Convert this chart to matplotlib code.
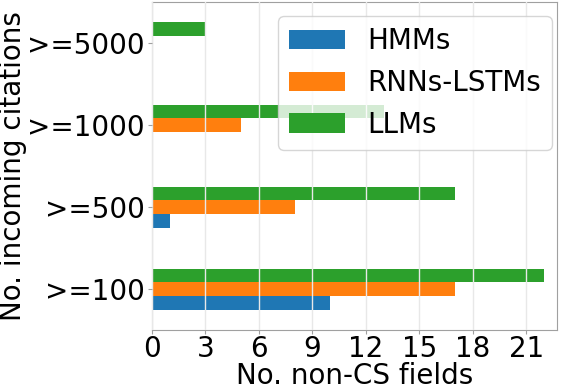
import pandas as pd
import matplotlib.pyplot as plt

categories = ['>=100', '>=500', '>=1000', '>=5000']
hmms = [10, 1, 0, 0]
rnns_lstms = [17, 8, 5, 0]
llms = [22, 17, 13, 3]

df = pd.DataFrame({'HMMs': hmms, 'RNNs-LSTMs': rnns_lstms, 'LLMs': llms}, index=categories)

plt.rcParams['font.size'] = 20
fig, ax = plt.subplots(figsize=(5.67, 3.88), dpi=100)
df.plot.barh(ax=ax, width=0.5)

ax.set_xticks(range(0, 22, 3))
ax.set_xlim(0, 22.7)
ax.set_xlabel('No. non-CS fields', labelpad=-1)
ax.set_ylabel('No. incoming citations', labelpad=0)
ax.grid(axis='x', color='#e8e8e8', linewidth=1)
ax.set_axisbelow(False)
for s in ax.spines.values():
    s.set_color('#a0a0a0')
ax.tick_params(colors='#a0a0a0', labelcolor='black', length=3, pad=2)
ax.tick_params(axis='x', pad=0.5)
ax.legend(loc='upper right', fontsize=20, borderaxespad=0,
          bbox_to_anchor=(0.988, 0.957))

fig.subplots_adjust(left=0.268, right=0.982, top=0.995, bottom=0.149)
plt.savefig('out.png')
